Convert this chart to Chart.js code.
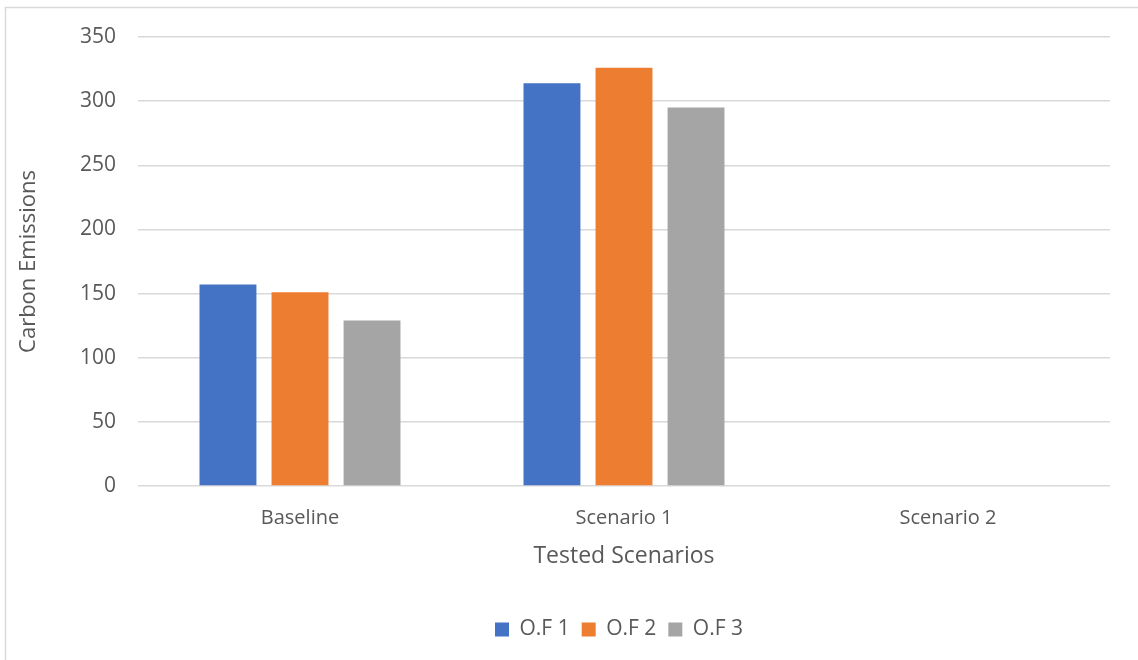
<!DOCTYPE html>
<html>
<head>
<meta charset="utf-8">
<script src="https://cdn.jsdelivr.net/npm/chart.js@4.4.1/dist/chart.umd.min.js"></script>
<style>
  html, body { margin: 0; padding: 0; background: #ffffff; }
  #wrap { position: relative; width: 1138px; height: 660px; }
</style>
</head>
<body>
<div id="wrap"><canvas id="chart" width="1138" height="660"></canvas></div>
<script>
// Categories and series values
const scenarios = ['Baseline', 'Scenario 1', 'Scenario 2'];
const of1 = [157, 314, null];
const of2 = [151, 326, null];
const of3 = [129, 295, null];
const seriesNames = ['O.F 1', 'O.F 2', 'O.F 3'];
const seriesColors = ['#4472C4', '#ED7D31', '#A5A5A5'];
const yTicks = [0, 50, 100, 150, 200, 250, 300, 350];

const FONT = "'Open Sans', 'Noto Sans', sans-serif";
const TEXT = '#595959';

// Light frame along the top and left of the chart
const framePlugin = {
  id: 'frame',
  beforeDraw(chart) {
    const ctx = chart.ctx;
    ctx.save();
    ctx.fillStyle = '#ffffff';
    ctx.fillRect(0, 0, chart.width, chart.height);
    ctx.strokeStyle = '#D9D9D9';
    ctx.lineWidth = 1.5;
    ctx.beginPath();
    ctx.moveTo(5.5, chart.height);
    ctx.lineTo(5.5, 7.5);
    ctx.lineTo(chart.width, 7.5);
    ctx.stroke();
    ctx.restore();
  }
};

// Centre the legend under the plot area rather than the whole canvas
const legendShift = {
  id: 'legendShift',
  afterLayout(chart) {
    const lg = chart.legend;
    if (!lg) return;
    const area = chart.chartArea;
    const dx = (area.left + area.right) / 2 - (lg.left + lg.right) / 2 - 5;
    lg.left += dx;
    lg.right += dx;
    if (lg.legendHitBoxes) lg.legendHitBoxes.forEach(b => { b.left += dx; });
  }
};

new Chart(document.getElementById('chart'), {
  type: 'bar',
  data: {
    labels: scenarios,
    datasets: [of1, of2, of3].map((vals, i) => ({
      label: seriesNames[i],
      data: vals,
      backgroundColor: seriesColors[i],
      borderWidth: 0,
      categoryPercentage: 0.667,
      barPercentage: 0.79
    }))
  },
  options: {
    responsive: false,
    animation: false,
    devicePixelRatio: 1,
    layout: { padding: { left: 6, right: 28, top: 37, bottom: 10 } },
    plugins: {
      tooltip: { enabled: false },
      legend: {
        position: 'bottom',
        labels: {
          font: { family: FONT, size: 21 },
          color: TEXT,
          boxWidth: 14,
          boxHeight: 14,
          padding: 12
        }
      }
    },
    scales: {
      x: {
        grid: { display: false, drawTicks: false },
        border: { display: false },
        ticks: { font: { family: FONT, size: 20 }, color: TEXT, padding: 20 },
        title: {
          display: true,
          text: 'Tested Scenarios',
          font: { family: FONT, size: 23 },
          color: TEXT,
          padding: { top: 10, bottom: 37 }
        },
        afterFit(scale) { scale.height = 121; }
      },
      y: {
        min: 0,
        max: 350,
        afterBuildTicks(scale) { scale.ticks = yTicks.map(v => ({ value: v })); },
        grid: { color: '#D9D9D9', lineWidth: 1.5, drawTicks: false },
        border: { display: false },
        ticks: { font: { family: FONT, size: 21 }, color: TEXT, padding: 22 },
        title: {
          display: true,
          text: 'Carbon Emissions',
          font: { family: FONT, size: 22 },
          color: TEXT,
          padding: { top: 10, bottom: 0 }
        },
        afterFit(scale) { scale.width = 132; }
      }
    }
  },
  plugins: [framePlugin, legendShift]
});
</script>
</body>
</html>
